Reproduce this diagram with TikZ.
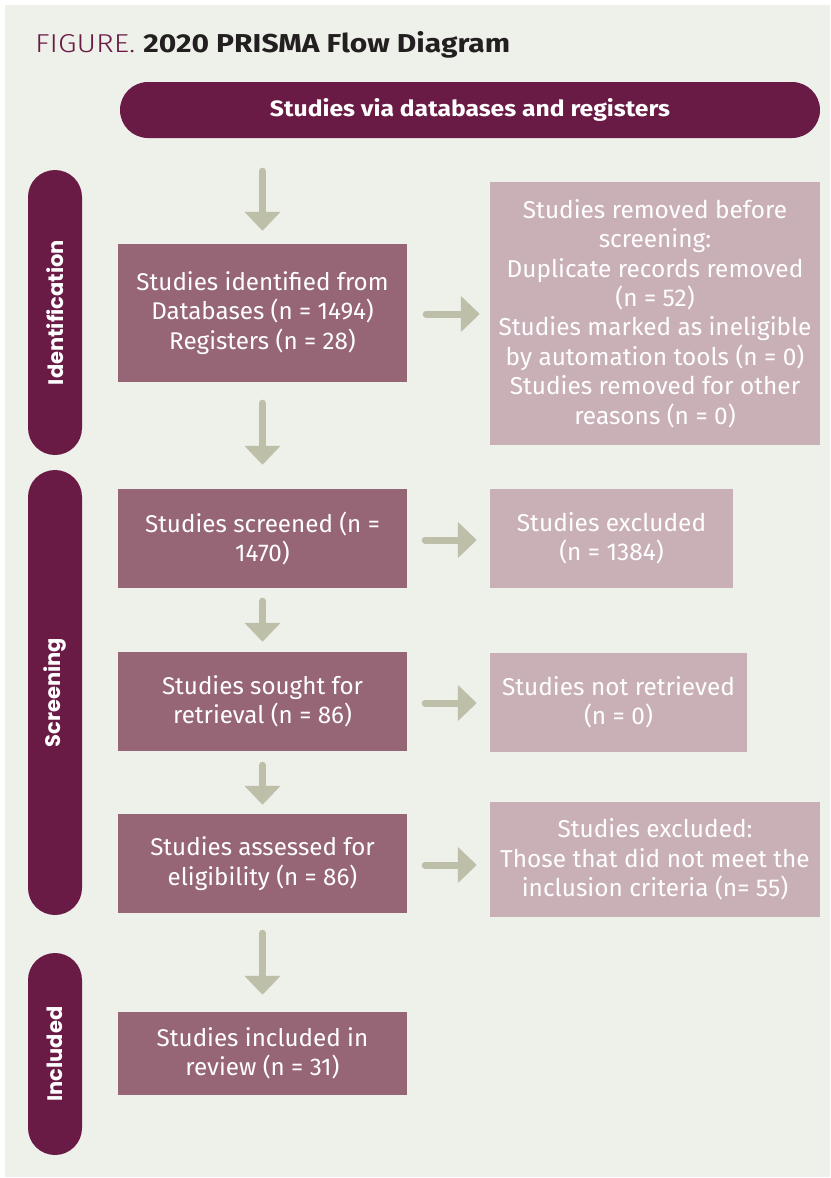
\documentclass[tikz,border=0pt]{standalone}
\usepackage{fontspec}
\setmainfont{Fira Sans}
\newfontfamily\sidefont{Poppins}
\usetikzlibrary{arrows.meta}
\definecolor{bgc}{HTML}{EEF0EA}
\definecolor{maroon}{HTML}{6A1B45}
\definecolor{mainbox}{HTML}{976676}
\definecolor{sidebox}{HTML}{C9B0B7}
\definecolor{arrc}{HTML}{BDBFA9}
\definecolor{titleblack}{HTML}{231F20}
\tikzset{
  mainstyle/.style={fill=mainbox, text=white, align=center, inner sep=0pt,
    font=\fontsize{24.2}{29.5}\selectfont},
  sidestyle/.style={fill=sidebox, text=white, align=center, inner sep=0pt,
    font=\fontsize{24.4}{29.4}\selectfont},
  phasepill/.style={fill=maroon, text=white, rotate=90, rounded corners=27pt,
    minimum height=54pt, inner sep=0pt, font=\sidefont\bfseries\fontsize{21}{24}\selectfont},
  flowarrow/.style={draw=arrc, line width=7pt, line cap=round,
    -{Triangle[width=35pt,length=19pt]}},
}
\begin{document}
\begin{tikzpicture}[x=1pt,y=-1pt]
\useasboundingbox (0,0) rectangle (830,1178);
\fill[bgc] (5,5) rectangle (830,1177);
% title
\node[anchor=base west, inner sep=0pt] (title) at (35,52)
  {\resizebox{475pt}{21pt}{\textcolor{maroon}{\fontspec{Fira Sans Light}FIGURE.} \textcolor{titleblack}{\bfseries 2020 PRISMA Flow Diagram}}};
% header pill
\node[fill=maroon, rounded corners=28pt, minimum width=700pt, minimum height=56pt, inner sep=0pt,
  text=white] (head) at (470,110)
  {\resizebox{400pt}{18pt}{\bfseries Studies via databases and registers}};
% phase pills
\node[phasepill, minimum width=285pt] (pid) at (55,312.5) {Identification};
\node[phasepill, minimum width=445pt] (pscr) at (55,692.5) {Screening};
\node[phasepill, minimum width=202pt] (pinc) at (55,1054) {Included};
% main boxes
\node[mainstyle, minimum width=289pt, minimum height=138pt] (b1) at (262.5,313)
  {Studies identified from\\Databases (n = 1494)\\Registers (n = 28)};
\node[mainstyle, minimum width=289pt, minimum height=99pt] (b2) at (262.5,538.5)
  {Studies screened (n =\\1470)};
\node[mainstyle, minimum width=289pt, minimum height=99pt] (b3) at (262.5,701.5)
  {Studies sought for\\retrieval (n = 86)};
\node[mainstyle, minimum width=289pt, minimum height=99pt] (b4) at (262.5,863.5)
  {Studies assessed for\\eligibility (n = 86)};
\node[mainstyle, minimum width=289pt, minimum height=83pt] (b5) at (262.5,1053.5)
  {Studies included in\\review (n = 31)};
% side boxes
\node[sidestyle, minimum width=330pt, minimum height=263pt] (r1) at (655,313.5)
  {Studies removed before\\screening:\\Duplicate records removed\\(n = 52)\\Studies marked as ineligible\\by automation tools (n = 0)\\Studies removed for other\\reasons (n = 0)};
\node[sidestyle, minimum width=243pt, minimum height=99pt] (r2) at (611.5,538.5)
  {Studies excluded\\(n = 1384)};
\node[sidestyle, minimum width=257pt, minimum height=99pt] (r3) at (618.5,702.5)
  {Studies not retrieved\\(n = 0)};
\node[sidestyle, minimum width=330pt, minimum height=115pt] (r4) at (655,859.5)
  {Studies excluded:\\Those that did not meet the\\inclusion criteria (n= 55)};
% down arrows
\draw[flowarrow] ([yshift=-33pt]b1.north |- head.south) -- ([yshift=13pt]b1.north);
\draw[flowarrow] ([yshift=-21pt]b1.south) -- ([yshift=24pt]b2.north);
\draw[flowarrow] ([yshift=-13pt]b2.south) -- ([yshift=10pt]b3.north);
\draw[flowarrow] ([yshift=-14pt]b3.south) -- ([yshift=9pt]b4.north);
\draw[flowarrow] ([yshift=-20pt]b4.south) -- ([yshift=17pt]b5.north);
% right arrows
\draw[flowarrow] ([xshift=19pt,yshift=-1pt]b1.east) -- ([xshift=-10pt,yshift=-1pt]b1.east -| r1.west);
\draw[flowarrow] ([xshift=18pt,yshift=-1.5pt]b2.east) -- ([xshift=-13pt,yshift=-1.5pt]b2.east -| r2.west);
\draw[flowarrow] ([xshift=18pt,yshift=-1.5pt]b3.east) -- ([xshift=-13pt,yshift=-1.5pt]b3.east -| r3.west);
\draw[flowarrow] ([xshift=18pt,yshift=-1.5pt]b4.east) -- ([xshift=-13pt,yshift=-1.5pt]b4.east -| r4.west);
\end{tikzpicture}
\end{document}
